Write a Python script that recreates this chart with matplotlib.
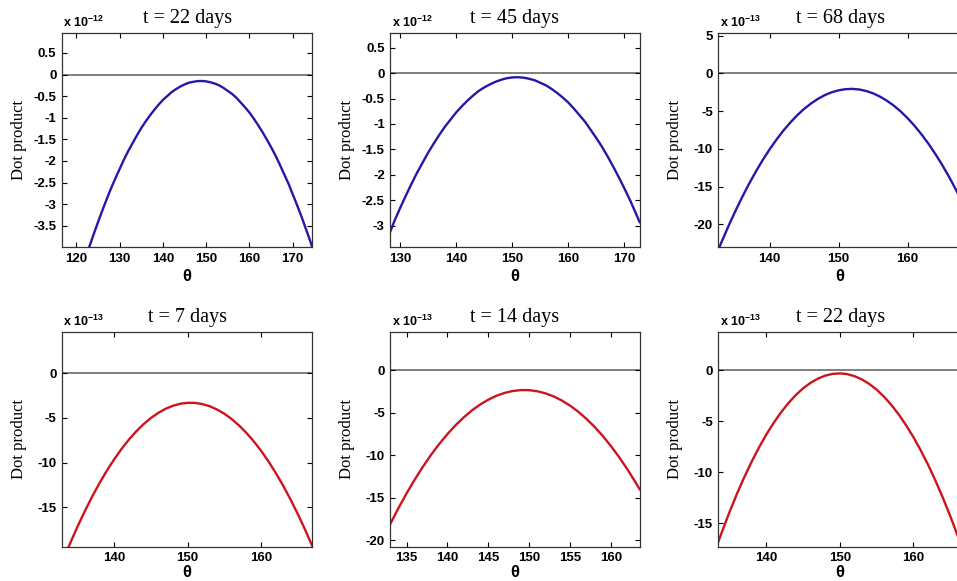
import numpy as np
import matplotlib
matplotlib.use("Agg")
import matplotlib.pyplot as plt

# データ (y は各パネルの x 10^n 単位)
titles = ["t = 22 days", "t = 45 days", "t = 68 days",
          "t = 7 days", "t = 14 days", "t = 22 days"]
exponents = [-12, -12, -13, -13, -13, -13]

theta_1 = [123] + list(range(124, 175)) + [174.5]
dot_1 = [-3.99, -3.70, -3.42, -3.15, -2.89, -2.64, -2.41, -2.19, -1.97, -1.77,
         -1.59, -1.41, -1.24, -1.09, -0.95, -0.82, -0.70, -0.59, -0.50, -0.41,
         -0.34, -0.28, -0.23, -0.19, -0.17, -0.153, -0.15, -0.159, -0.18, -0.21,
         -0.25, -0.31, -0.38, -0.45, -0.54, -0.65, -0.76, -0.88, -1.02, -1.17,
         -1.33, -1.50, -1.68, -1.87, -2.08, -2.30, -2.52, -2.77, -3.02, -3.28,
         -3.56, -3.84, -3.99]

theta_2 = [128.25] + list(range(129, 173)) + [172.7]
dot_2 = [-3.11, -2.90, -2.65, -2.41, -2.18, -1.96, -1.76, -1.56, -1.38, -1.21,
         -1.05, -0.91, -0.77, -0.65, -0.54, -0.44, -0.35, -0.28, -0.22, -0.17,
         -0.13, -0.10, -0.084, -0.08, -0.089, -0.11, -0.14, -0.19, -0.24, -0.31,
         -0.39, -0.48, -0.58, -0.70, -0.83, -0.96, -1.12, -1.28, -1.45, -1.64,
         -1.84, -2.05, -2.27, -2.50, -2.75, -2.93]

theta_3 = [132.6] + list(range(133, 169))
dot_3 = [-23.29, -22.42, -20.31, -18.32, -16.44, -14.67, -13.03, -11.49, -10.08, -8.78,
         -7.59, -6.52, -5.56, -4.72, -4.00, -3.39, -2.89, -2.51, -2.25, -2.10,
         -2.06, -2.14, -2.34, -2.65, -3.08, -3.62, -4.27, -5.04, -5.93, -6.93,
         -8.05, -9.28, -10.63, -12.09, -13.67, -15.37, -17.17]

theta_4 = [133.8] + list(range(134, 168))
dot_4 = [-19.37, -18.98, -17.13, -15.39, -13.77, -12.26, -10.88, -9.61, -8.45, -7.41,
         -6.49, -5.69, -5.00, -4.43, -3.97, -3.64, -3.41, -3.31, -3.32, -3.45,
         -3.69, -4.06, -4.53, -5.13, -5.84, -6.67, -7.61, -8.67, -9.85, -11.15,
         -12.56, -14.09, -15.73, -17.49, -19.37]

theta_5 = [133.03] + list(range(134, 164)) + [163.5]
dot_5 = [-18.08, -16.27, -14.52, -12.89, -11.38, -9.98, -8.70, -7.54, -6.49, -5.57,
         -4.75, -4.06, -3.49, -3.03, -2.69, -2.47, -2.36, -2.37, -2.50, -2.75,
         -3.11, -3.59, -4.19, -4.91, -5.74, -6.69, -7.76, -8.95, -10.25, -11.67,
         -13.21, -14.02]

theta_6 = [133.5] + list(range(134, 168))
dot_6 = [-16.82, -15.83, -13.94, -12.17, -10.53, -9.01, -7.61, -6.34, -5.19, -4.16,
         -3.25, -2.46, -1.80, -1.26, -0.85, -0.55, -0.38, -0.33, -0.40, -0.60,
         -0.92, -1.36, -1.92, -2.61, -3.42, -4.35, -5.41, -6.58, -7.88, -9.30,
         -10.85, -12.52, -14.31, -16.22, -18.25]

thetas = [theta_1, theta_2, theta_3, theta_4, theta_5, theta_6]
dots = [dot_1, dot_2, dot_3, dot_4, dot_5, dot_6]

xlims = [(116.7, 174.5), (128.25, 172.7), (132.58, 167.9),
         (132.86, 166.98), (133.03, 163.5), (133.5, 166.6)]
ylims = [(-3.99, 0.96), (-3.42, 0.79), (-23.0, 5.34),
         (-19.42, 4.62), (-20.78, 4.47), (-17.32, 3.73)]
xticks = [[120, 130, 140, 150, 160, 170], [130, 140, 150, 160, 170], [140, 150, 160],
          [140, 150, 160], [135, 140, 145, 150, 155, 160], [140, 150, 160]]
yticks = [[0.5, 0, -0.5, -1, -1.5, -2, -2.5, -3, -3.5],
          [0.5, 0, -0.5, -1, -1.5, -2, -2.5, -3],
          [5, 0, -5, -10, -15, -20],
          [0, -5, -10, -15],
          [0, -5, -10, -15, -20],
          [0, -5, -10, -15]]
colors = ["#2418a8", "#2418a8", "#2418a8", "#cc141c", "#cc141c", "#cc141c"]

# レイアウト (ピクセル)
W, H = 957, 581
col_left = [62, 390.4, 718.4]
col_right = [312.2, 639.6, 962]
row_top = [33, 332]
row_bottom = [247, 546.7]
xlabel_pad = [3, 0.5]

sans = "Liberation Sans"
serif = "Liberation Serif"

fig = plt.figure(figsize=(W / 100, H / 100), dpi=100)
fig.patch.set_facecolor("white")

for i in range(6):
    r, c = divmod(i, 3)
    l, rt = col_left[c], col_right[c]
    t, b = row_top[r], row_bottom[r]
    ax = fig.add_axes([l / W, 1 - b / H, (rt - l) / W, (b - t) / H])
    ax.axhline(0, color="#6a6a6a", lw=1.2, zorder=1)
    ax.plot(thetas[i], dots[i], color=colors[i], lw=1.7, zorder=2,
            solid_joinstyle="round")
    ax.set_xlim(*xlims[i])
    ax.set_ylim(*ylims[i])
    ax.set_xticks(xticks[i])
    ax.set_yticks(yticks[i])
    ax.set_yticklabels(["%g" % v for v in yticks[i]])
    ax.tick_params(direction="in", length=3.5, width=0.8, top=True, right=True,
                   labelsize=9.5, pad=4)
    for lab in ax.get_xticklabels() + ax.get_yticklabels():
        lab.set_fontfamily(sans)
        lab.set_fontweight("bold")
    for s in ax.spines.values():
        s.set_linewidth(0.9)
        s.set_color("#333333")
    ax.set_title(titles[i], family=serif, fontsize=14.5, pad=7)
    ax.set_xlabel("θ", family=sans, fontweight="bold", fontsize=12,
                  labelpad=xlabel_pad[r])
    ax.set_ylabel("Dot product", family=serif, fontsize=12)
    ax.yaxis.set_label_coords(-35 / (rt - l), 0.5)
    ax.text(0.005, 1.015, r"x 10$^{\mathregular{%d}}$" % exponents[i],
            transform=ax.transAxes, family=sans, fontsize=9, fontweight="bold",
            ha="left", va="bottom")

fig.savefig("out.png", dpi=100, facecolor="white")
